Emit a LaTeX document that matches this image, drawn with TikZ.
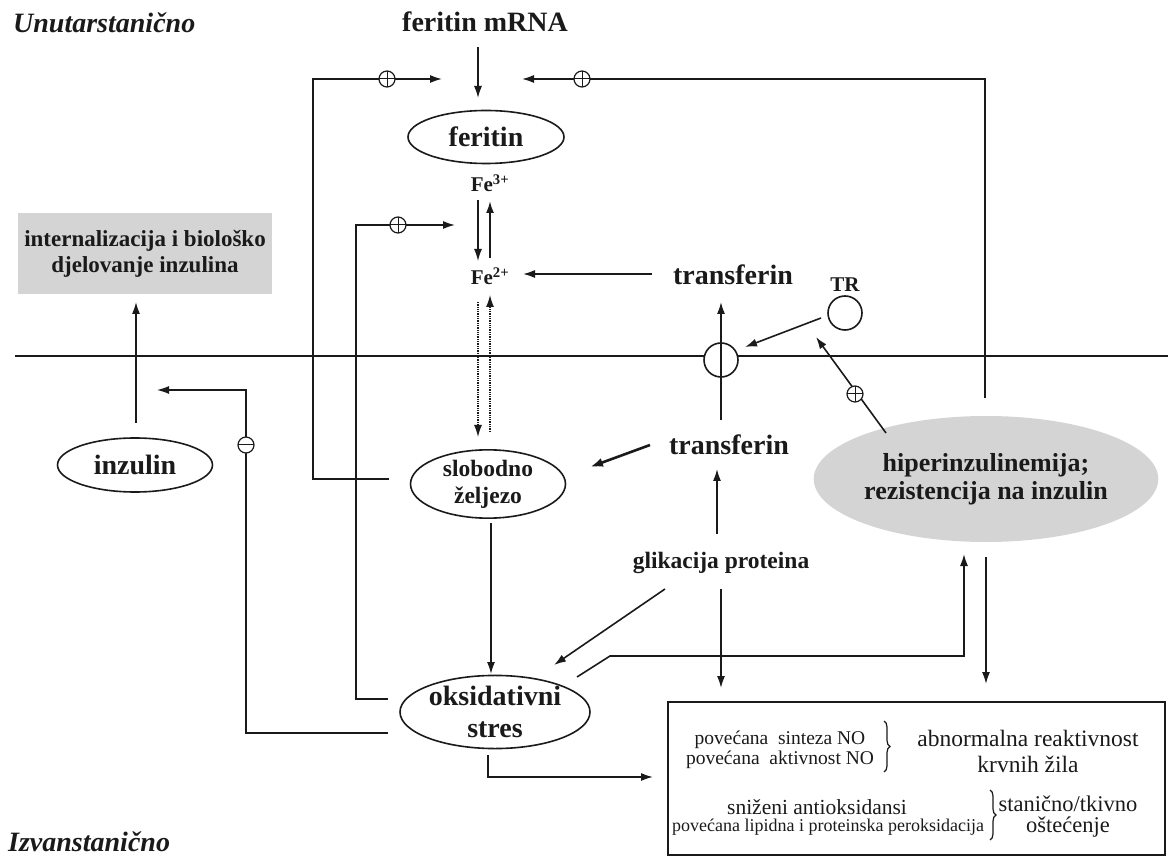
\documentclass[tikz,border=0pt]{standalone}
\usepackage{fontspec}
\setmainfont{Liberation Serif}
\usetikzlibrary{shapes.geometric,arrows.meta,decorations.pathreplacing}
\definecolor{boxgray}{HTML}{D4D4D4}
\definecolor{ink}{HTML}{1A1A1A}
\begin{document}
\begin{tikzpicture}[x=1pt,y=-1pt,
  every node/.style={inner sep=0pt, text=ink},
  big/.style={font=\fontsize{28}{32}\selectfont\bfseries, align=center},
  mid/.style={font=\fontsize{23.5}{27}\selectfont\bfseries, align=center},
  small/.style={font=\fontsize{21}{24}\selectfont\bfseries, align=center},
  ell/.style={ellipse, draw=ink, line width=1.6pt},
  arr/.style={draw=ink, line width=1.6pt, -{Latex[length=12pt,width=8pt]}},
  dotarr/.style={draw=ink, line width=1.3pt, densely dotted, -{Latex[length=12pt,width=8pt]}},
  plusc/.style={circle, draw=ink, line width=1.2pt, fill=white, minimum size=16pt,
    path picture={\draw[line width=1pt] (path picture bounding box.north) -- (path picture bounding box.south)
      (path picture bounding box.west) -- (path picture bounding box.east);}},
  minusc/.style={circle, draw=ink, line width=1.2pt, fill=white, minimum size=16pt,
    path picture={\draw[line width=1pt] (path picture bounding box.west) -- (path picture bounding box.east);}},
  brc/.style={draw=ink, line width=1.2pt, decorate, decoration={brace, amplitude=6pt}}
]
\useasboundingbox (0,0) rectangle (1168,858);

% region labels
\node[anchor=base west, font=\fontsize{28}{30}\selectfont\bfseries\itshape] (unut) at (13,33) {Unutarstanično};
\node[anchor=base west, font=\fontsize{28}{30}\selectfont\bfseries\itshape] (izvan) at (8,851) {Izvanstanično};

% membrane
\coordinate (memL) at (15,356);
\coordinate (memR) at (1168,356);
\draw[draw=ink, line width=1.7pt] (memL) -- (memR);

% nodes
\node[big, anchor=base] (mrna) at (485,32) {feritin mRNA};
\node[ell, big, minimum width=156pt, minimum height=53pt] (feritin) at (486,137) {feritin};
\node[small, anchor=base] (fe3) at (490,192) {Fe\textsuperscript{3+}};
\node[small, anchor=base] (fe2) at (490,285) {Fe\textsuperscript{2+}};
\node[fill=boxgray, minimum width=254pt, minimum height=81pt, mid, font=\fontsize{23}{26}\selectfont\bfseries] (intern) at (145,253.5) {internalizacija i biološko\\djelovanje inzulina};
\node[ell, big, minimum width=155pt, minimum height=54pt] (inz) at (135,465) {inzulin};
\node[ell, mid, minimum width=155pt, minimum height=55pt] (slob) at (488,484) {slobodno\\željezo};
\node[ell, big, minimum width=190pt, minimum height=70pt] (oks) at (495,712) {oksidativni\\stres};
\node[big] (tf1) at (733,275) {transferin};
\node[big] (tf2) at (729,445) {transferin};
\node[small] (trlab) at (845,285) {TR};
\node[circle, draw=ink, line width=1.6pt, minimum size=34pt] (tr) at (845,313) {};
\node[circle, draw=ink, fill=white, line width=1.6pt, minimum size=34pt] (mc) at (721,360) {};
\node[ellipse, fill=boxgray, minimum width=268pt, minimum height=126pt, font=\fontsize{26}{28}\selectfont\bfseries, align=center] (hip) at (986,479) {hiperinzulinemija;\\rezistencija na inzulin};
\node[mid] (glik) at (721,563) {glikacija proteina};

% result box
\node[draw=ink, line width=1.6pt, minimum width=497pt, minimum height=153pt] (box) at (916.5,778.5) {};
\node[font=\fontsize{19.5}{20}\selectfont, align=center] (t1) at (780,750) {povećana\ \ sinteza NO\\povećana\ \ aktivnost NO};
\node[font=\fontsize{23.5}{26}\selectfont, align=center] (t2) at (1028,751) {abnormalna reaktivnost\\krvnih žila};
\node[font=\fontsize{21.5}{22}\selectfont] (t3) at (817,807) {sniženi antioksidansi};
\node[font=\fontsize{18}{20}\selectfont] (t4) at (828,827) {povećana lipidna i proteinska peroksidacija};
\node[font=\fontsize{22.5}{21}\selectfont, align=center] (t5) at (1068,817) {stanično/tkivno\\oštećenje};
\draw[brc] (884,721) -- (884,772);
\draw[brc] (990,790) -- (990,840);

% coordinates for connectors
\coordinate (a1s) at (478,47);   \coordinate (a1e) at (478,98);
\coordinate (l1s) at (389,479);  \coordinate (l1c) at (313,479); \coordinate (l1t) at (313,79); \coordinate (l1e) at (442,79);
\coordinate (l2s) at (388,699);  \coordinate (l2c) at (356,699); \coordinate (l2t) at (356,225); \coordinate (l2e) at (455,225);
\coordinate (l3s) at (388,733);  \coordinate (l3c) at (246,733); \coordinate (l3t) at (246,390); \coordinate (l3e) at (157,390);
\coordinate (l4s) at (985,398);  \coordinate (l4t) at (985,79);  \coordinate (l4e) at (522,79);
\coordinate (fdS) at (478,200);  \coordinate (fdE) at (478,261);
\coordinate (fuS) at (490,258);  \coordinate (fuE) at (490,201);
\coordinate (ddS) at (478,302);  \coordinate (ddE) at (478,437);
\coordinate (duS) at (490,432);  \coordinate (duE) at (490,295);
\coordinate (tfA) at (652,274);  \coordinate (tfB) at (523,274);
\coordinate (vS) at (721,420);   \coordinate (vE) at (721,302);
\coordinate (trA) at (821,318);  \coordinate (trB) at (745,347);
\coordinate (hA) at (886,433);   \coordinate (hB) at (816,337);
\coordinate (gA) at (717,534);   \coordinate (gB) at (717,469);
\coordinate (sA) at (650,445);   \coordinate (sB) at (590,467);
\coordinate (oA) at (491,523);   \coordinate (oB) at (491,674);
\coordinate (goA) at (665,589);  \coordinate (goB) at (554,665);
\coordinate (ohA) at (577,677);  \coordinate (ohB) at (610,656); \coordinate (ohC) at (964,656); \coordinate (ohD) at (964,554);
\coordinate (hbA) at (986,557);  \coordinate (hbB) at (986,684);
\coordinate (gbA) at (721,589);  \coordinate (gbB) at (721,688);
\coordinate (obA) at (488,755);  \coordinate (obB) at (488,777); \coordinate (obC) at (653,777);
\coordinate (iA) at (136,423);   \coordinate (iB) at (136,302);

% connectors
\draw[arr] (a1s) -- (a1e);
\draw[arr] (l1s) -- (l1c) -- (l1t) -- (l1e);
\draw[arr] (l2s) -- (l2c) -- (l2t) -- (l2e);
\draw[arr, line width=1.2pt] (l3s) -- (l3c) -- (l3t) -- (l3e);
\draw[arr, line width=1.3pt] (fdS) -- (fdE);
\draw[arr, line width=1.9pt] (fuS) -- (fuE);
\draw[arr] (l4s) -- (l4t) -- (l4e);
\draw[dotarr] (ddS) -- (ddE);
\draw[dotarr] (duS) -- (duE);
\draw[arr] (tfA) -- (tfB);
\draw[arr] (vS) -- (vE);
\draw[arr] (trA) -- (trB);
\draw[arr] (hA) -- (hB);
\draw[arr] (gA) -- (gB);
\draw[draw=ink, line width=2.6pt, -{Latex[length=13pt,width=9pt]}] (sA) -- (sB);
\draw[arr] (oA) -- (oB);
\draw[arr] (goA) -- (goB);
\draw[arr] (ohA) -- (ohB) -- (ohC) -- (ohD);
\draw[arr] (hbA) -- (hbB);
\draw[arr] (gbA) -- (gbB);
\draw[arr] (obA) -- (obB) -- (obC);
\draw[arr] (iA) -- (iB);

% signs
\node[plusc] (p1) at (387,79) {};
\node[plusc] (p2) at (582,79) {};
\node[plusc] (p3) at (398,225) {};
\node[plusc] (p4) at (855,394) {};
\node[minusc] (m1) at (246,445) {};
\end{tikzpicture}
\end{document}
